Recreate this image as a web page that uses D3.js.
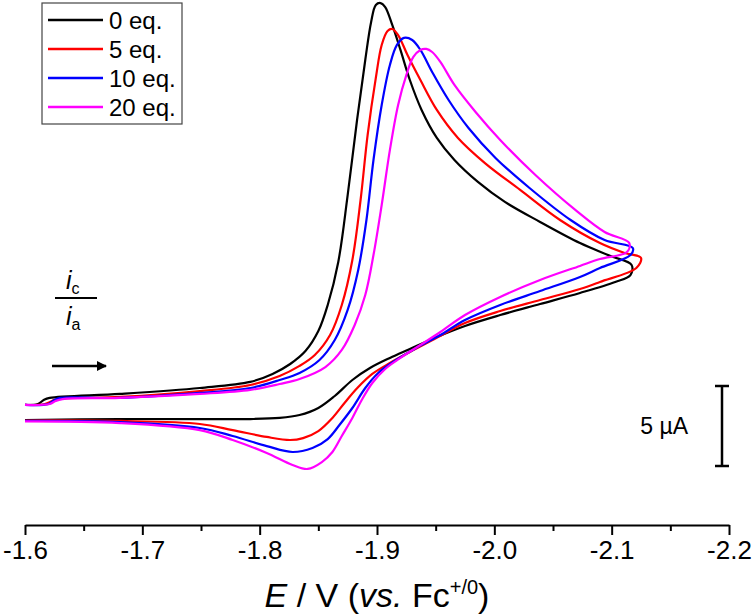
<!DOCTYPE html>
<html><head><meta charset="utf-8">
<script src="https://cdn.jsdelivr.net/npm/d3@7"></script>
<style>
html,body{margin:0;padding:0;background:#fff;}
svg text{font-family:"Liberation Sans",Arial,Helvetica,sans-serif;}
</style></head>
<body>
<svg id="chart" width="752" height="615"></svg>
<script>
// ---- data: [E (V vs Fc+/0), current (µA, relative)] along the scan ----
const seriesNames = ["0 eq.", "5 eq.", "10 eq.", "20 eq."];
const seriesColors = ["#000000", "#ff0000", "#0000ff", "#ff00ff"];
const xTicks = [-1.6, -1.7, -1.8, -1.9, -2.0, -2.1, -2.2];
const xTickLabels = ["-1.6", "-1.7", "-1.8", "-1.9", "-2.0", "-2.1", "-2.2"];
const scaleBarValue = 5; // µA

const eq0 = [
  [-1.600,0.94],[-1.611,1.00],[-1.616,1.25],[-1.621,1.38],[-1.681,1.63],[-1.749,2.00],[-1.792,2.38],[-1.811,2.88],
  [-1.826,3.50],[-1.839,4.31],[-1.850,5.56],[-1.858,7.19],[-1.867,9.88],[-1.875,14.06],[-1.883,18.75],[-1.890,22.50],
  [-1.895,24.88],[-1.899,25.94],[-1.903,26.06],[-1.907,25.81],[-1.913,24.69],[-1.920,23.13],[-1.928,21.25],[-1.938,19.38],
  [-1.951,17.63],[-1.966,16.25],[-1.986,14.88],[-2.009,13.63],[-2.039,12.38],[-2.073,11.06],[-2.099,10.25],[-2.117,9.69],
  [-2.116,9.06],[-2.103,8.63],[-2.073,7.94],[-2.039,7.25],[-2.005,6.56],[-1.975,5.88],[-1.949,5.13],[-1.928,4.44],
  [-1.911,3.88],[-1.894,3.25],[-1.879,2.50],[-1.864,1.50],[-1.850,0.75],[-1.834,0.31],[-1.817,0.13],[-1.792,0.06],
  [-1.749,0.06],[-1.681,0.06],[-1.600,0.00]];

const eq5 = [
  [-1.600,0.94],[-1.617,1.00],[-1.623,1.19],[-1.628,1.31],[-1.681,1.44],[-1.749,1.81],[-1.792,2.19],[-1.817,2.75],
  [-1.834,3.38],[-1.847,4.06],[-1.860,5.31],[-1.870,7.19],[-1.879,10.00],[-1.886,13.75],[-1.892,17.81],[-1.899,21.38],
  [-1.904,23.44],[-1.909,24.31],[-1.913,24.44],[-1.918,24.06],[-1.926,22.81],[-1.937,21.25],[-1.951,19.38],[-1.969,17.63],
  [-1.992,16.06],[-2.022,14.38],[-2.056,12.50],[-2.090,11.06],[-2.111,10.44],[-2.125,10.13],
  [-2.121,9.50],[-2.090,8.63],[-2.073,8.19],[-2.039,7.50],[-2.005,6.81],[-1.975,6.06],[-1.949,5.06],[-1.928,4.25],
  [-1.911,3.56],[-1.896,2.88],[-1.884,2.06],[-1.873,1.13],[-1.862,0.13],[-1.850,-0.69],[-1.837,-1.13],[-1.826,-1.25],
  [-1.806,-1.06],[-1.777,-0.63],[-1.749,-0.25],[-1.681,-0.06],[-1.600,-0.03]];

const eq10 = [
  [-1.600,0.94],[-1.620,1.00],[-1.625,1.25],[-1.630,1.38],[-1.681,1.38],[-1.749,1.69],[-1.792,2.00],[-1.817,2.50],
  [-1.834,2.94],[-1.851,3.75],[-1.864,5.00],[-1.875,6.88],[-1.884,9.38],[-1.891,12.50],[-1.897,16.25],[-1.904,19.69],
  [-1.911,22.19],[-1.917,23.44],[-1.923,23.88],[-1.930,23.75],[-1.937,23.13],[-1.947,21.75],[-1.961,20.00],[-1.978,18.25],
  [-2.001,16.38],[-2.030,14.50],[-2.065,12.50],[-2.094,11.25],[-2.118,10.75],
  [-2.116,10.31],[-2.090,9.50],[-2.073,8.94],[-2.039,8.06],[-2.005,7.19],[-1.975,6.25],[-1.954,5.31],[-1.932,4.44],
  [-1.915,3.69],[-1.901,2.94],[-1.890,2.00],[-1.879,0.75],[-1.868,-0.31],[-1.858,-1.19],[-1.845,-1.75],[-1.828,-2.00],
  [-1.806,-1.63],[-1.777,-1.00],[-1.749,-0.50],[-1.681,-0.13],[-1.600,-0.06]];

const eq20 = [
  [-1.600,0.94],[-1.621,1.00],[-1.626,1.19],[-1.632,1.31],[-1.681,1.38],[-1.749,1.63],[-1.792,1.88],[-1.817,2.25],
  [-1.834,2.56],[-1.856,3.31],[-1.870,4.38],[-1.881,5.94],[-1.890,7.81],[-1.897,10.31],[-1.904,13.44],[-1.911,16.88],
  [-1.918,19.69],[-1.925,21.56],[-1.931,22.69],[-1.937,23.13],[-1.942,23.19],[-1.947,23.00],[-1.954,22.38],[-1.966,20.94],
  [-1.984,19.25],[-2.005,17.50],[-2.035,15.31],[-2.069,13.13],[-2.094,11.75],[-2.115,11.06],
  [-2.113,10.50],[-2.090,10.06],[-2.073,9.63],[-2.039,8.75],[-2.005,7.69],[-1.975,6.56],[-1.954,5.50],[-1.937,4.69],
  [-1.920,3.88],[-1.907,3.19],[-1.896,2.31],[-1.887,1.25],[-1.879,0.13],[-1.870,-1.00],[-1.862,-2.00],[-1.853,-2.63],
  [-1.841,-3.06],[-1.828,-2.81],[-1.806,-2.06],[-1.777,-1.25],[-1.749,-0.63],[-1.681,-0.19],[-1.600,-0.09]];

const seriesData = [eq0, eq5, eq10, eq20];

// ---- scales ----
const svg = d3.select("#chart");
const x = d3.scaleLinear().domain([-1.6, -2.2]).range([25, 729]);
const y = d3.scaleLinear().domain([0, 26]).range([420, 4]);
const axisY = 525;

// ---- axis ----
const minorTicks = d3.range(0, 6).map(i => -1.65 - i * 0.1);
svg.append("g").attr("transform", `translate(0,${axisY})`)
  .call(d3.axisBottom(x).tickValues(minorTicks).tickSize(6).tickFormat("").tickSizeOuter(0))
  .call(g => g.select(".domain").remove());
const gMaj = svg.append("g").attr("transform", `translate(0,${axisY})`)
  .call(d3.axisBottom(x).tickValues(xTicks).tickSize(10).tickSizeOuter(0)
    .tickFormat((d, i) => xTickLabels[i]).tickPadding(6));
svg.selectAll(".domain").attr("stroke", "#000").attr("stroke-width", 2);
svg.selectAll(".tick line").attr("stroke", "#000").attr("stroke-width", 2);
gMaj.selectAll(".tick text").attr("font-size", 26).attr("fill", "#000")
  .attr("font-family", "Liberation Sans, Arial, sans-serif");

// ---- axis title ----
const title = svg.append("text").attr("x", x(-1.9)).attr("y", 607)
  .attr("text-anchor", "middle").attr("font-size", 34).attr("fill", "#000");
title.append("tspan").attr("font-style", "italic").text("E");
title.append("tspan").text(" / V (");
title.append("tspan").attr("font-style", "italic").text("vs.");
title.append("tspan").text(" Fc");
title.append("tspan").attr("font-size", 20).attr("dy", -13).text("+/0");
title.append("tspan").attr("dy", 13).text(")");

// ---- curves ----
const line = d3.line().x(d => x(d[0])).y(d => y(d[1])).curve(d3.curveCatmullRom.alpha(0.5));
seriesData.forEach((pts, k) => {
  svg.append("path").datum(pts).attr("d", line)
    .attr("fill", "none").attr("stroke", seriesColors[k]).attr("stroke-width", 2.2)
    .attr("stroke-linejoin", "round");
});

// ---- legend ----
const lg = svg.append("g");
lg.append("rect").attr("x", 42).attr("y", 3).attr("width", 140).attr("height", 121)
  .attr("fill", "#fff").attr("stroke", "#444").attr("stroke-width", 1.2);
seriesNames.forEach((n, i) => {
  const yy = 20 + i * 29;
  lg.append("line").attr("x1", 48).attr("x2", 103).attr("y1", yy).attr("y2", yy)
    .attr("stroke", seriesColors[i]).attr("stroke-width", 2.5);
  lg.append("text").attr("x", 109).attr("y", yy + 9).attr("font-size", 24).attr("fill", "#000").text(n);
});

// ---- i_c / i_a annotation ----
const ann = svg.append("g");
const t1 = ann.append("text").attr("x", 66).attr("y", 289).attr("font-size", 25).attr("fill", "#000");
t1.append("tspan").attr("font-style", "italic").text("i");
t1.append("tspan").attr("font-size", 16).attr("dy", 5).text("c");
ann.append("line").attr("x1", 55).attr("x2", 97).attr("y1", 298).attr("y2", 298).attr("stroke", "#000").attr("stroke-width", 2);
const t2 = ann.append("text").attr("x", 66).attr("y", 325).attr("font-size", 25).attr("fill", "#000");
t2.append("tspan").attr("font-style", "italic").text("i");
t2.append("tspan").attr("font-size", 16).attr("dy", 5).text("a");
svg.append("defs").append("marker").attr("id", "ah").attr("viewBox", "0 0 10 10")
  .attr("refX", 9).attr("refY", 5).attr("markerWidth", 5).attr("markerHeight", 4)
  .attr("markerUnits", "strokeWidth").attr("orient", "auto")
  .append("path").attr("d", "M0,0 L10,5 L0,10 Z").attr("fill", "#000");
ann.append("line").attr("x1", 52).attr("x2", 106).attr("y1", 366).attr("y2", 366)
  .attr("stroke", "#000").attr("stroke-width", 2.5).attr("marker-end", "url(#ah)");

// ---- scale bar (5 µA) ----
const barX = 722, barTop = 386;
const barLen = y(0) - y(scaleBarValue);
const sb = svg.append("g").attr("stroke", "#000").attr("stroke-width", 2.5);
sb.append("line").attr("x1", barX).attr("x2", barX).attr("y1", barTop).attr("y2", barTop + barLen);
sb.append("line").attr("x1", barX - 7).attr("x2", barX + 7).attr("y1", barTop).attr("y2", barTop);
sb.append("line").attr("x1", barX - 7).attr("x2", barX + 7).attr("y1", barTop + barLen).attr("y2", barTop + barLen);
svg.append("text").attr("x", 688).attr("y", barTop + barLen / 2 + 8).attr("text-anchor", "end")
  .attr("font-size", 23).attr("fill", "#000").text(scaleBarValue + " µA");
</script>
</body></html>
